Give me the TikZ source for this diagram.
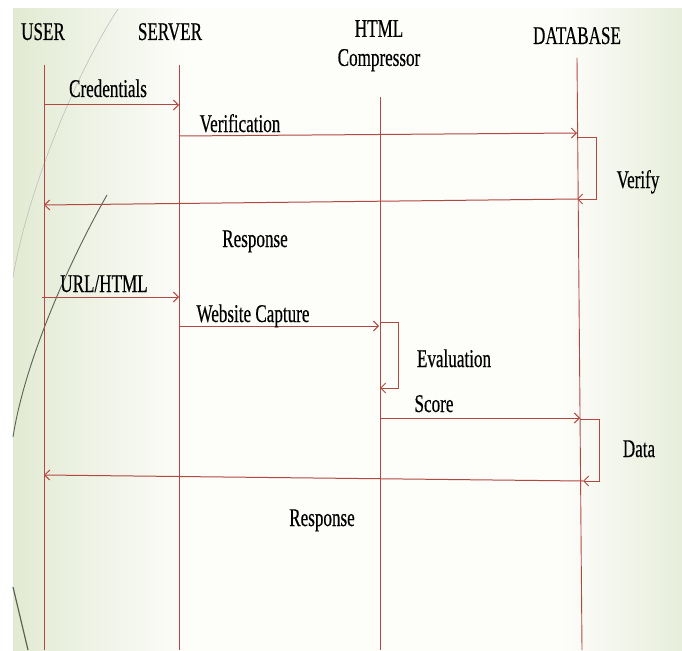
\documentclass[tikz,border=0pt]{standalone}
\usepackage{fontspec}
\setmainfont{Liberation Serif}[FakeStretch=0.67, FakeBold=0.4]
\usetikzlibrary{arrows.meta}
\definecolor{msgred}{RGB}{178,72,64}
\definecolor{slideedge}{RGB}{226,234,211}
\definecolor{slidemid}{RGB}{253,253,250}
\definecolor{swoosh}{RGB}{90,98,84}
\pgfdeclarehorizontalshading{slideshade}{100bp}{color(0bp)=(slideedge); color(25bp)=(slideedge);
  color(38bp)=(slidemid); color(66bp)=(slidemid); color(75bp)=(slideedge!80!slidemid); color(100bp)=(slideedge!80!slidemid)}

\begin{document}
\begin{tikzpicture}[
    x=1pt, y=-1pt,
    actor/.style={font=\fontsize{25.5}{29}\selectfont, inner sep=0pt, align=center},
    msglabel/.style={font=\fontsize{25.5}{29}\selectfont, inner sep=0pt, anchor=base},
    lifeline/.style={draw=msgred, line width=0.9pt},
    msg/.style={draw=msgred, line width=1pt, -{Straight Barb[length=5pt,width=10pt]}}
]
    % Slide background
    \useasboundingbox (0,0) rectangle (682,650);
    \fill[white] (0,0) rectangle (682,650);
    \shade[shading=slideshade] (13,9) rectangle (682,650);

    % Theme swooshes
    \draw[swoosh!40, line width=0.6pt] (118,9) .. controls (75,75) and (28,190) .. (13,277);
    \draw[swoosh, line width=0.9pt] (107,195) .. controls (70,260) and (25,360) .. (13,437);
    \draw[swoosh, line width=1.2pt] (13,587) -- (28,650);

    % Participants
    \node[actor, anchor=base] (user) at (43,40) {USER};
    \node[actor, anchor=base] (server) at (170,40) {SERVER};
    \node[actor, anchor=north] (compressor) at (379,20) {HTML\\Compressor};
    \node[actor, anchor=base] (database) at (577,44) {DATABASE};

    % Lifelines
    \coordinate (userTop) at (44,65);    \coordinate (userEnd) at (44,650);
    \coordinate (serverTop) at (179,65); \coordinate (serverEnd) at (179,650);
    \coordinate (htmlTop) at (380,97);   \coordinate (htmlEnd) at (380,650);
    \coordinate (dbTop) at (577,58);     \coordinate (dbEnd) at (582,650);
    \draw[lifeline] (userTop) -- (userEnd);
    \draw[lifeline] (serverTop) -- (serverEnd);
    \draw[lifeline] (htmlTop) -- (htmlEnd);
    \draw[lifeline] (dbTop) -- (dbEnd);

    % Login
    \coordinate (credA) at (44,105);    \coordinate (credB) at (179,105);
    \coordinate (verA) at (179,136);    \coordinate (verB) at (577,133);
    \coordinate (vfyA) at (577,137);    \coordinate (vfyB) at (577,199);
    \coordinate (respA) at (577,199);   \coordinate (respB) at (44,205);
    \draw[msg] (credA) -- (credB);
    \draw[msg] (verA) -- (verB);
    \draw[msg] (vfyA) -- ++(19,0) |- (vfyB);
    \draw[msg] (respA) -- (respB);
    \node[msglabel] (credLabel) at (108,97) {Credentials};
    \node[msglabel] (verLabel) at (240,132) {Verification};
    \node[msglabel] (vfyLabel) at (638,188) {Verify};
    \node[msglabel] (respLabel) at (255,247) {Response};

    % Compression check
    \coordinate (urlA) at (42,297);     \coordinate (urlB) at (179,297);
    \coordinate (capA) at (179,326);    \coordinate (capB) at (379,326);
    \coordinate (evalA) at (380,322);   \coordinate (evalB) at (380,388);
    \coordinate (scoreA) at (380,418);  \coordinate (scoreB) at (580,418);
    \coordinate (dataA) at (580,419);   \coordinate (dataB) at (583,481);
    \coordinate (backA) at (583,481);   \coordinate (backB) at (44,475);
    \draw[msg] (urlA) -- (urlB);
    \draw[msg] (capA) -- (capB);
    \draw[msg] (evalA) -- ++(18,0) |- (evalB);
    \draw[msg] (scoreA) -- (scoreB);
    \draw[msg] (dataA) -- ++(19,0) |- (dataB);
    \draw[msg] (backA) -- (backB);
    \node[msglabel] (urlLabel) at (104,292) {URL/HTML};
    \node[msglabel] (capLabel) at (253,322) {Website Capture};
    \node[msglabel] (evalLabel) at (454,367) {Evaluation};
    \node[msglabel] (scoreLabel) at (434,412) {Score};
    \node[msglabel] (dataLabel) at (639,457) {Data};
    \node[msglabel] (backLabel) at (322,526) {Response};
\end{tikzpicture}
\end{document}
